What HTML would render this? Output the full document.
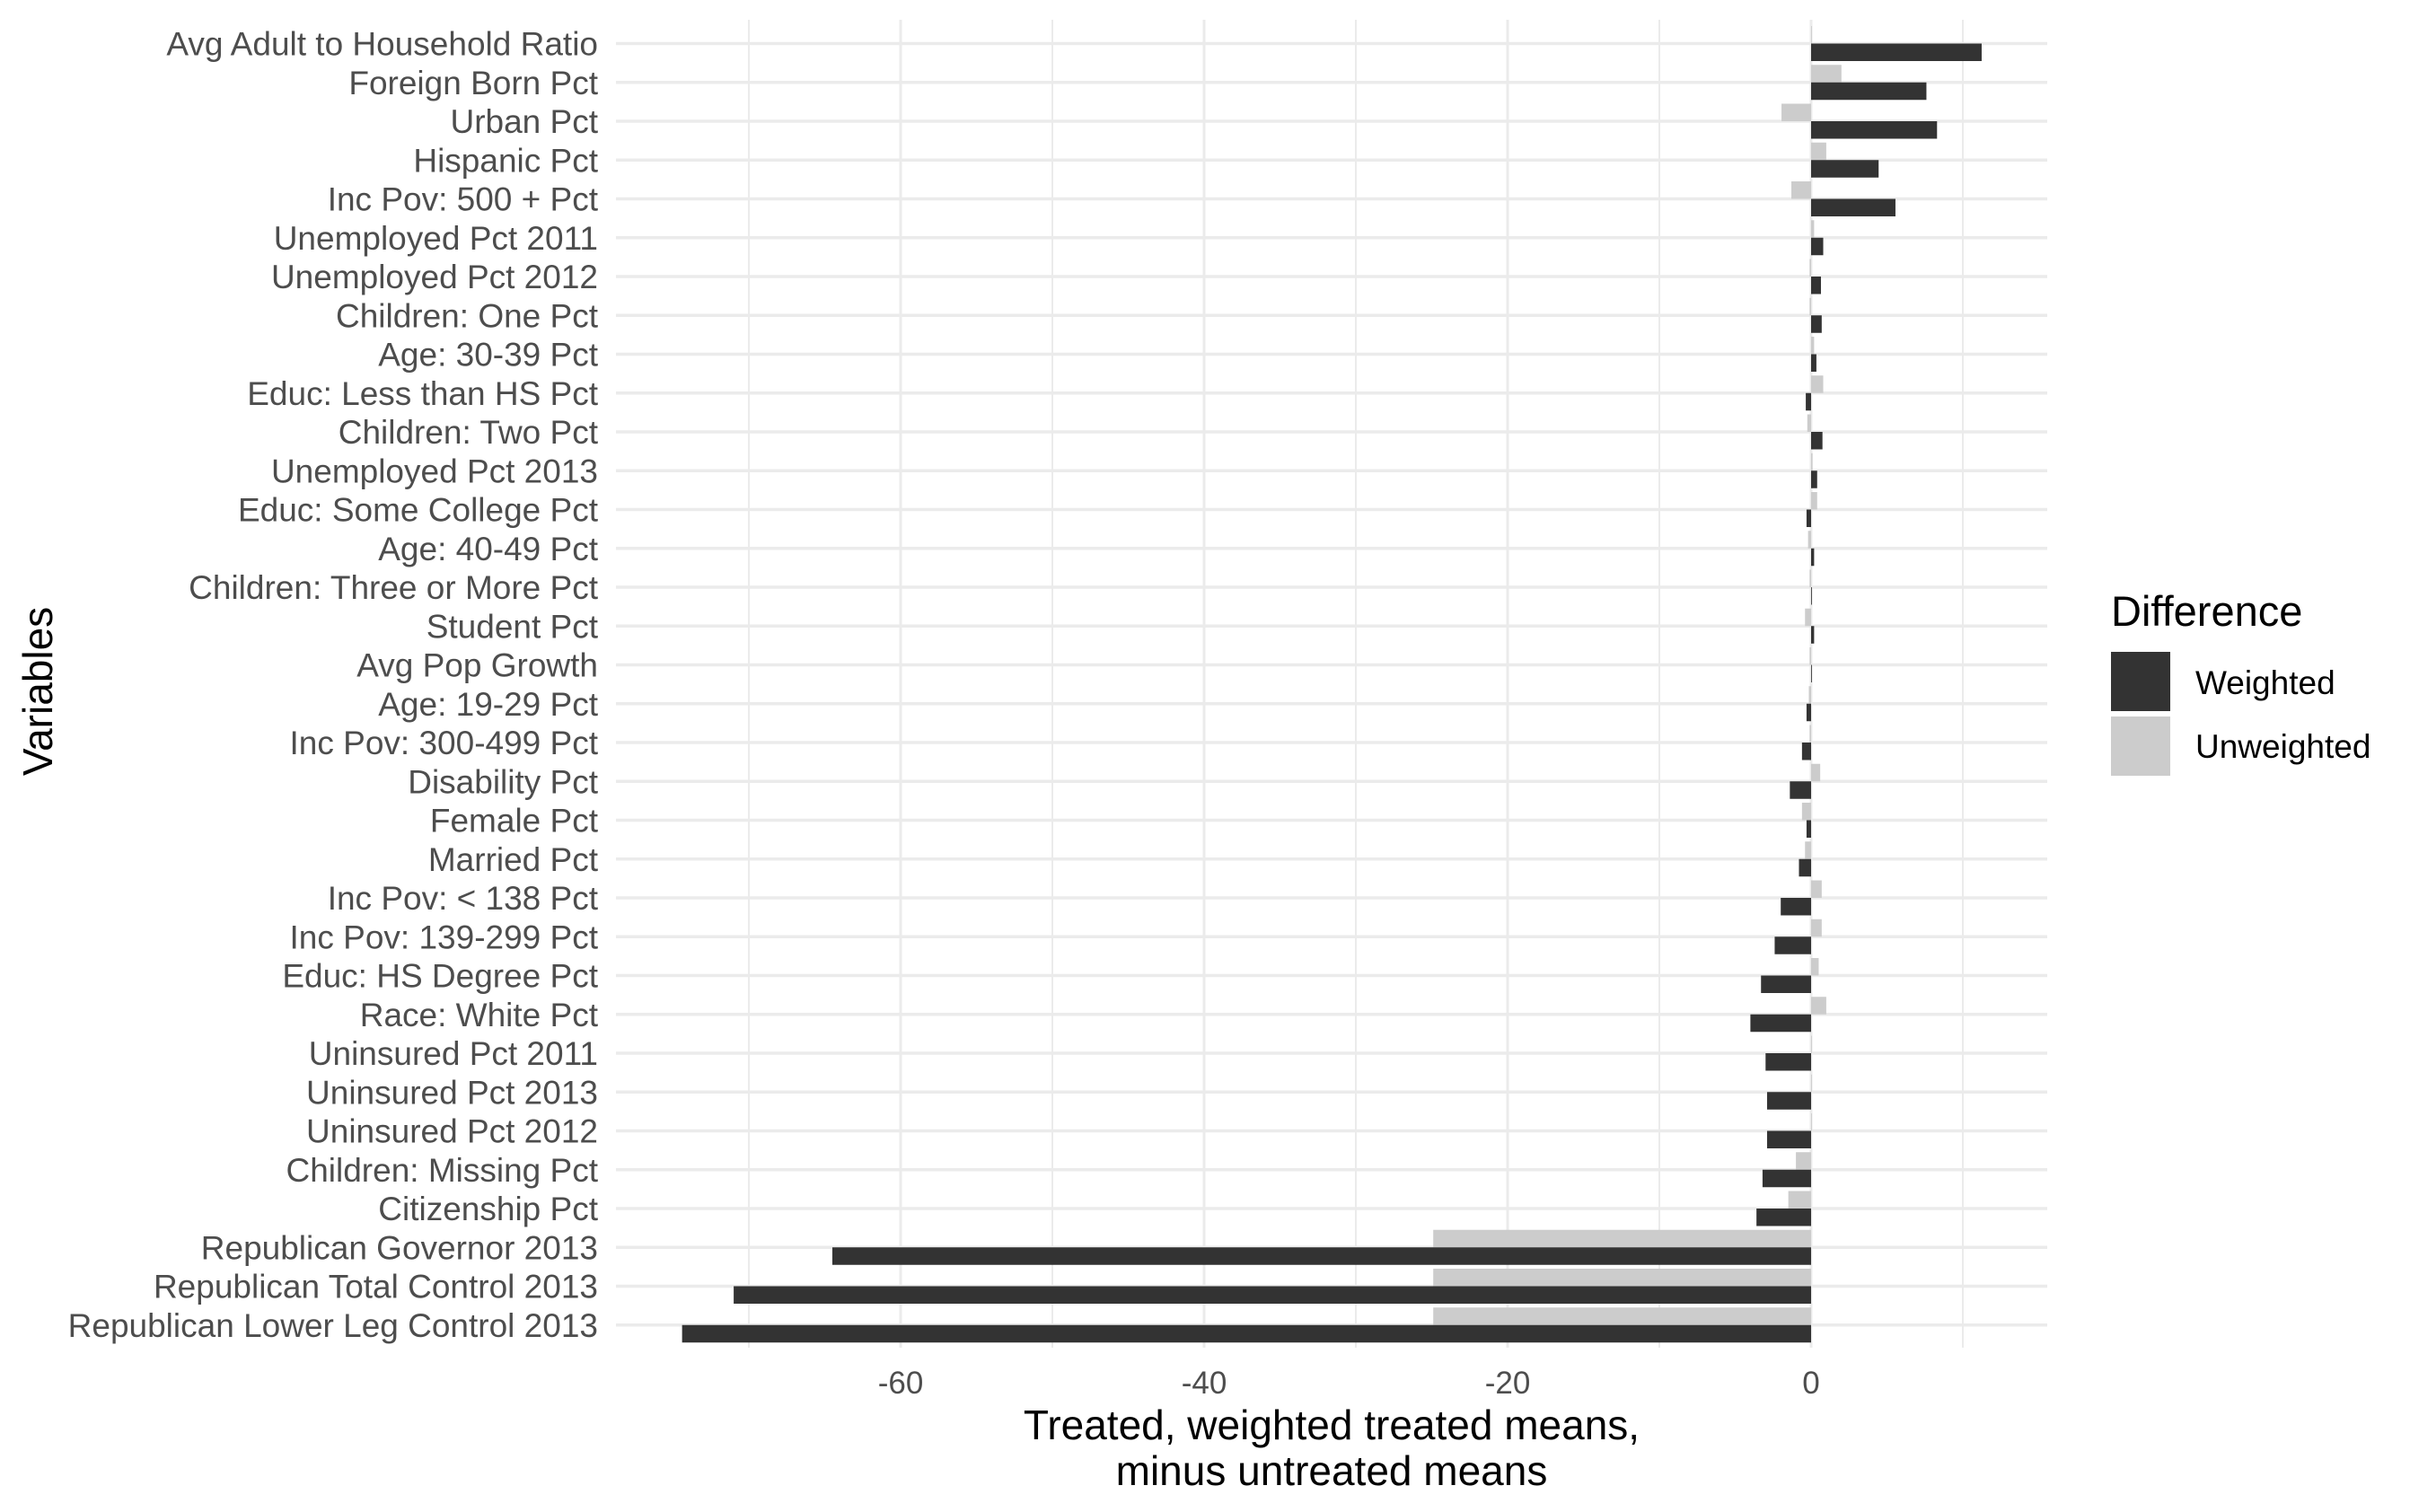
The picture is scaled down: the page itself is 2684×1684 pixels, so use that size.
<!DOCTYPE html>
<html><head><meta charset="utf-8">
<style>
html,body{margin:0;padding:0;background:#fff;}
svg{display:block;font-family:"Liberation Sans",Arial,sans-serif;}
</style></head>
<body>
<svg id="chart" width="2684" height="1684" viewBox="0 0 2684 1684" xmlns="http://www.w3.org/2000/svg">
  <g id="grid"></g>
  <g id="bars"></g>
  <g id="ylabels"></g>
  <g id="xlabels"></g>
  <text x="1483" y="1603" font-size="46" text-anchor="middle" fill="#000">Treated, weighted treated means,</text>
  <text x="1483" y="1654" font-size="46" text-anchor="middle" fill="#000">minus untreated means</text>
  <text transform="translate(58,770) rotate(-90)" font-size="46" text-anchor="middle" fill="#000">Variables</text>
  <g>
    <text x="2351" y="697" font-size="47" fill="#000">Difference</text>
    <rect x="2351" y="726" width="66" height="66" fill="#333333"/>
    <text x="2445" y="773" font-size="37" fill="#000">Weighted</text>
    <rect x="2351" y="798" width="66" height="66" fill="#cccccc"/>
    <text x="2445" y="844" font-size="37" fill="#000">Unweighted</text>
  </g>
</svg>
<script>
const categories = ["Avg Adult to Household Ratio","Foreign Born Pct","Urban Pct","Hispanic Pct","Inc Pov: 500 + Pct","Unemployed Pct 2011","Unemployed Pct 2012","Children: One Pct","Age: 30-39 Pct","Educ: Less than HS Pct","Children: Two Pct","Unemployed Pct 2013","Educ: Some College Pct","Age: 40-49 Pct","Children: Three or More Pct","Student Pct","Avg Pop Growth","Age: 19-29 Pct","Inc Pov: 300-499 Pct","Disability Pct","Female Pct","Married Pct","Inc Pov: < 138 Pct","Inc Pov: 139-299 Pct","Educ: HS Degree Pct","Race: White Pct","Uninsured Pct 2011","Uninsured Pct 2013","Uninsured Pct 2012","Children: Missing Pct","Citizenship Pct","Republican Governor 2013","Republican Total Control 2013","Republican Lower Leg Control 2013"];
const weighted = [11.24,7.6,8.3,4.45,5.56,0.8,0.65,0.7,0.35,-0.35,0.75,0.4,-0.3,0.2,0.05,0.2,0.05,-0.3,-0.6,-1.4,-0.3,-0.8,-2.0,-2.4,-3.3,-4.0,-3.0,-2.9,-2.9,-3.2,-3.6,-64.5,-71.0,-74.4];
const unweighted = [0.05,2.0,-1.95,1.0,-1.3,0.2,-0.1,-0.1,0.2,0.8,-0.25,0.1,0.4,-0.2,-0.1,-0.4,-0.1,-0.15,-0.1,0.6,-0.6,-0.4,0.7,0.7,0.5,1.0,0.05,0.05,0.05,-1.0,-1.5,-24.9,-24.9,-24.9];
const majorTicks = [-60,-40,-20,0];
const minorTicks = [-70,-50,-30,-10,10];
const tickLabels = ["-60","-40","-20","0"];

const NS = "http://www.w3.org/2000/svg";
const panel = {left:686, right:2280, top:22, bottom:1501};
const x0 = 2017, unit = 16.9;
const rowTop = 48.5, rowStep = 43.25, barH = 19.5;
function xScale(v){ return x0 + v*unit; }
function yScale(i){ return rowTop + i*rowStep; }
function mk(tag, attrs, parent){
  const el = document.createElementNS(NS, tag);
  for (const k in attrs) el.setAttribute(k, attrs[k]);
  parent.appendChild(el);
  return el;
}
const grid = document.getElementById('grid');
minorTicks.forEach(t => {
  const l = mk('line', {x1:xScale(t), x2:xScale(t), y1:panel.top, y2:panel.bottom, stroke:'#ebebeb', 'stroke-width':2}, grid);
  
  
});
majorTicks.forEach(t => {
  const l = mk('line', {x1:xScale(t), x2:xScale(t), y1:panel.top, y2:panel.bottom, stroke:'#ebebeb', 'stroke-width':3}, grid);
  
  
});
categories.forEach((c, i) => {
  const l = mk('line', {x1:panel.left, x2:panel.right, y1:yScale(i), y2:yScale(i), stroke:'#ebebeb', 'stroke-width':3.5}, grid);
  
  
});
const bars = document.getElementById('bars');
categories.forEach((c, i) => {
  const y = yScale(i);
  const u = unweighted[i];
  const ub = mk('rect', {x:Math.min(xScale(0), xScale(u)), y:y-barH, width:Math.abs(xScale(u)-xScale(0)), height:barH, fill:'#cccccc'}, bars);
  
  
  const w = weighted[i];
  const wb = mk('rect', {x:Math.min(xScale(0), xScale(w)), y:y, width:Math.abs(xScale(w)-xScale(0)), height:barH, fill:'#333333'}, bars);
  
  
});
const yl = document.getElementById('ylabels');
categories.forEach((c, i) => {
  const t = mk('text', {x:666, y:yScale(i)+13, 'font-size':37, 'text-anchor':'end', fill:'#4d4d4d'}, yl);
  t.textContent = c;
  
  
});
const xl = document.getElementById('xlabels');
majorTicks.forEach((v, i) => {
  const t = mk('text', {x:xScale(v), y:1552, 'font-size':35, 'text-anchor':'middle', fill:'#4d4d4d'}, xl);
  t.textContent = tickLabels[i];
  
  
});
</script>
</body></html>
